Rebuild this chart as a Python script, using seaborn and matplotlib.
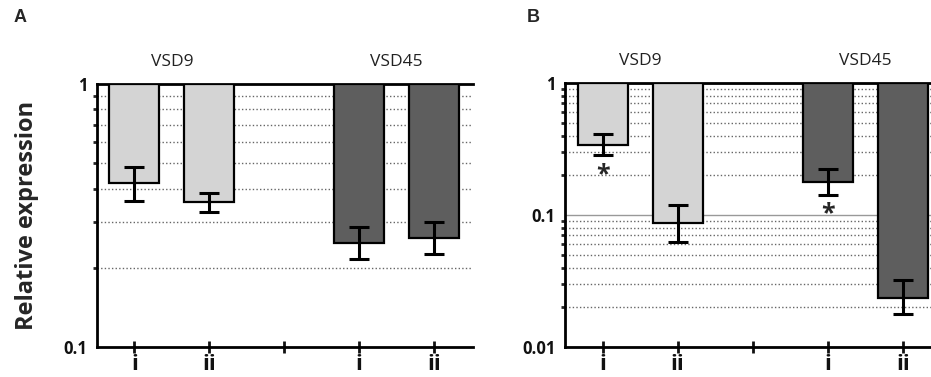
import numpy as np
import pandas as pd
import matplotlib.pyplot as plt
import seaborn as sns

# Data (relative expression, log scale)
groups = ["VSD9", "VSD45"]
slots = ["VSD9 i", "VSD9 ii", "gap", "VSD45 i", "VSD45 ii"]
tick_labels = ["i", "ii", "", "i", "ii"]
bars = ["VSD9 i", "VSD9 ii", "VSD45 i", "VSD45 ii"]
bar_colors = ["#d4d4d4", "#d4d4d4", "#5e5e5e", "#5e5e5e"]

a_mean = [0.42, 0.356, 0.249, 0.259]
a_low = [0.36, 0.327, 0.217, 0.226]
a_high = [0.485, 0.386, 0.287, 0.299]

b_mean = [0.339, 0.0865, 0.177, 0.0236]
b_low = [0.283, 0.0628, 0.142, 0.0177]
b_high = [0.408, 0.119, 0.224, 0.0322]
b_stars = ["*", "", "*", ""]

sns.set_style("white")
plt.rcParams["font.family"] = ["Open Sans", "DejaVu Sans"]


def panel(ax, mean, low, high, ndec, xmax, stars=None):
    df = pd.DataFrame({"slot": bars, "logval": np.log10(mean)})
    sns.barplot(data=df, x="slot", y="logval", order=slots, hue="slot",
                palette=dict(zip(bars, bar_colors)), width=0.667,
                edgecolor="black", linewidth=1.6, saturation=1,
                legend=False, ax=ax, zorder=3)
    xpos = [slots.index(b) for b in bars]
    lm = np.log10(mean)
    err = [lm - np.log10(low), np.log10(high) - lm]
    ax.errorbar(xpos, lm, yerr=err, fmt="none", ecolor="black",
                elinewidth=2.2, capsize=7, capthick=2.2, zorder=4)
    if stars:
        for x, s, lo in zip(xpos, stars, low):
            if s:
                ax.annotate(s, xy=(x, np.log10(lo)), xytext=(0, -19),
                            textcoords="offset pixels", ha="center",
                            va="center", fontsize=18, fontweight="bold",
                            zorder=5)

    # log-style y axis
    ax.set_ylim(-ndec, 0)
    ax.set_yticks(range(-ndec, 1))
    ax.set_yticklabels([f"{10.0 ** k:g}" for k in range(-ndec, 1)],
                       fontweight="bold")
    minor = [np.log10(m) + k for k in range(-ndec, 0) for m in range(2, 10)]
    ax.set_yticks(minor, minor=True)
    ax.grid(axis="y", which="minor", ls=(0, (1, 1.6)), color="#666", lw=1)
    if ndec > 1:
        ax.grid(axis="y", which="major", ls="-", color="#999", lw=1)
    ax.set_axisbelow(True)

    ax.set_xlim(-0.5, xmax)
    ax.set_xticks(range(len(slots)))
    ax.set_xticklabels(tick_labels, fontsize=16, fontweight="bold")
    ax.set_xlabel("")
    ax.set_ylabel("")

    ax.tick_params(axis="y", which="major", direction="out", length=5,
                   width=2, labelsize=12, pad=2, colors="#111")
    ax.tick_params(axis="y", which="minor", direction="out", length=3,
                   width=2, left=True)
    ax.tick_params(axis="x", direction="inout", length=8, width=2,
                   bottom=True, pad=1, colors="#111")
    for side in ["top", "left", "bottom"]:
        ax.spines[side].set_color("black")
        ax.spines[side].set_linewidth(2)
    ax.spines["right"].set_visible(False)

    for g, x in zip(groups, [0.5, 3.5]):
        ax.text(x, 1.085, g, transform=ax.get_xaxis_transform(),
                ha="center", va="center", fontsize=12.5, color="#222")


fig = plt.figure(figsize=(9.31, 3.77), dpi=100)
ax_a = fig.add_axes([97 / 931, 30 / 377, 376 / 931, 263 / 377])
ax_b = fig.add_axes([565 / 931, 30 / 377, 366 / 931, 264 / 377])

panel(ax_a, a_mean, a_low, a_high, 1, 4.52)
panel(ax_b, b_mean, b_low, b_high, 2, 4.37, b_stars)

ax_a.set_ylabel("Relative expression", fontsize=17, fontweight="bold")
ax_a.yaxis.set_label_coords(-0.155, 0.5)

fig.text(14 / 931, 1 - 18 / 377, "A", fontsize=13, fontweight="bold",
         va="center", family="Liberation Sans")
fig.text(527 / 931, 1 - 18 / 377, "B", fontsize=13, fontweight="bold",
         va="center", family="Liberation Sans")

fig.savefig("out.png", dpi=100)
